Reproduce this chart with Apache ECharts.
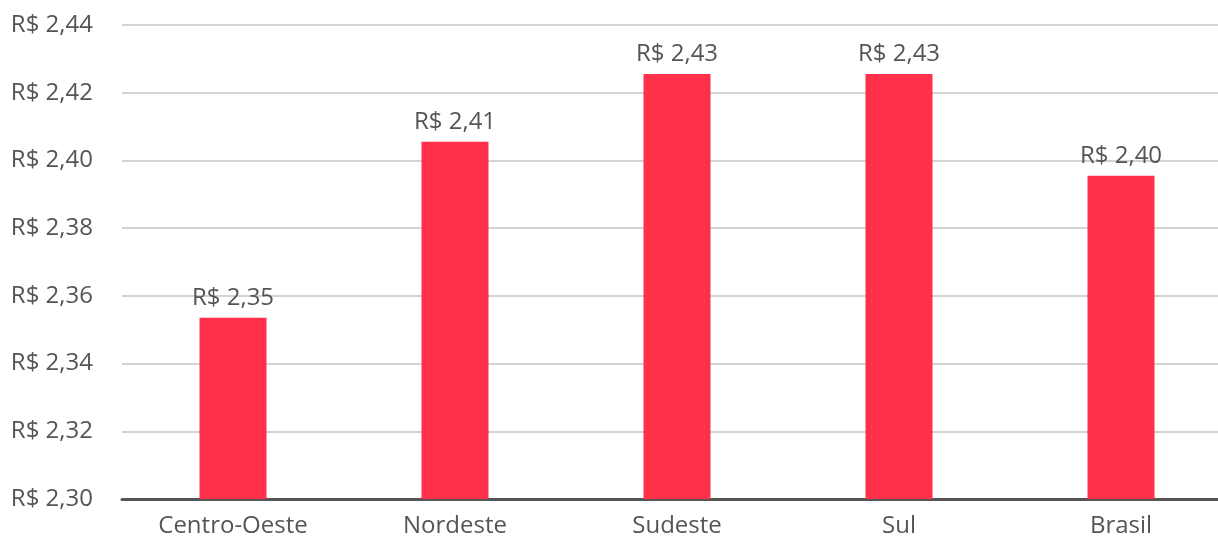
<!DOCTYPE html>
<html>
<head>
<meta charset="utf-8">
<script src="https://cdn.jsdelivr.net/npm/echarts@6/dist/echarts.min.js"></script>
<style>
  html, body { margin: 0; padding: 0; background: #fff; }
  #chart { width: 1218px; height: 538px; }
</style>
</head>
<body>
<div id="chart"></div>
<script>
// regiões e preço médio
const regioes = ['Centro-Oeste', 'Nordeste', 'Sudeste', 'Sul', 'Brasil'];
const precos = [2.3535, 2.4055, 2.4255, 2.4255, 2.3955];
const yMin = 2.30, yMax = 2.44, yStep = 0.02;

function brl(v) {
  return 'R$ ' + v.toFixed(2).replace('.', ',');
}

const chart = echarts.init(document.getElementById('chart'));
const option = {
  animation: false,
  textStyle: { fontFamily: 'Open Sans' },
  grid: { left: 122, width: 1110, top: 25, bottom: 39, containLabel: false, outerBoundsMode: 'none' },
  xAxis: {
    type: 'category',
    data: regioes,
    axisLine: { lineStyle: { color: '#555', width: 3 } },
    axisTick: { show: false },
    axisLabel: { color: '#555', fontSize: 24, margin: 15, fontFamily: 'Open Sans' }
  },
  yAxis: {
    type: 'value',
    min: yMin,
    max: yMax,
    interval: yStep,
    axisLine: { show: false },
    axisTick: { show: false },
    splitLine: { lineStyle: { color: '#c4c4c4', width: 1.5 } },
    axisLabel: {
      color: '#555', fontSize: 24, margin: 29, fontFamily: 'Open Sans',
      formatter: v => brl(v)
    }
  },
  series: [{
    type: 'bar',
    data: precos,
    barWidth: 67,
    itemStyle: { color: '#ff3049' },
    label: {
      show: true,
      position: 'top',
      distance: 8,
      color: '#555',
      fontSize: 24,
      fontFamily: 'Open Sans',
      formatter: p => brl(p.value)
    }
  }]
};
chart.setOption(option);
</script>
</body>
</html>
